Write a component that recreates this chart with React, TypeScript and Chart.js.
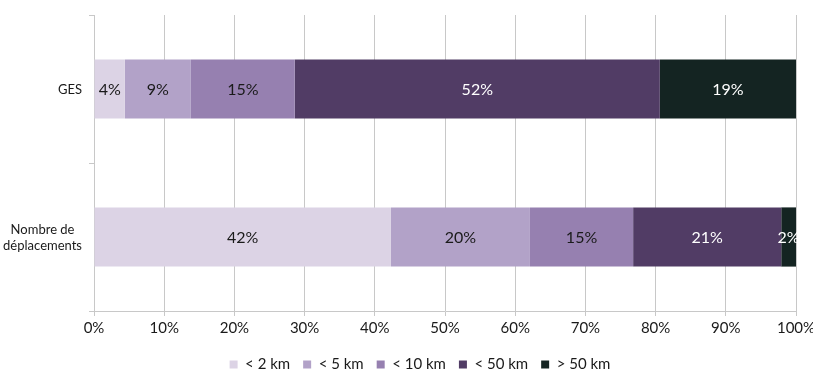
import React, { useEffect, useRef } from "react";
import { Chart, registerables } from "chart.js";

Chart.register(...registerables);

const categories: string[][] = [["GES"], ["Nombre de", "déplacements"]];
const seriesNames = ["< 2 km", "< 5 km", "< 10 km", "< 50 km", "> 50 km"];
const lt2 = [4.4, 42.3];
const lt5 = [9.4, 19.8];
const lt10 = [14.8, 14.7];
const lt50 = [52.0, 21.1];
const gt50 = [19.4, 2.1];
const shownLabels = [
  ["4%", "42%"],
  ["9%", "20%"],
  ["15%", "15%"],
  ["52%", "21%"],
  ["19%", "2%"],
];
const xTicks = [0, 10, 20, 30, 40, 50, 60, 70, 80, 90, 100];

const colors = ["#dcd3e5", "#b2a2c8", "#9680b0", "#513c65", "#142422"];
const labelColors = ["#1a1a1a", "#1a1a1a", "#1a1a1a", "#ffffff", "#ffffff"];
const FONT = "Lato, 'DejaVu Sans', sans-serif";

const labelPlugin = {
  id: "segLabels",
  afterDatasetsDraw(chart: any) {
    const ctx = chart.ctx;
    ctx.save();
    ctx.font = `16px ${FONT}`;
    ctx.textAlign = "center";
    ctx.textBaseline = "middle";
    chart.data.datasets.forEach((ds: any, di: number) => {
      const meta = chart.getDatasetMeta(di);
      meta.data.forEach((bar: any, i: number) => {
        const cx = (bar.x + bar.base) / 2;
        ctx.fillStyle = labelColors[di];
        ctx.fillText(shownLabels[di][i], cx, bar.y + 1);
      });
    });
    ctx.restore();
  },
};

const yLabelPlugin = {
  id: "yLabels",
  afterDraw(chart: any) {
    const ctx = chart.ctx;
    const y = chart.scales.y;
    ctx.save();
    ctx.font = `13px ${FONT}`;
    ctx.fillStyle = "#1a1a1a";
    ctx.textAlign = "center";
    ctx.textBaseline = "middle";
    const rightEdge = y.right - 12;
    const lh = 16;
    categories.forEach((lines, i) => {
      const py = y.getPixelForValue(i);
      const widest = Math.max(...lines.map((l) => ctx.measureText(l).width));
      const cx = rightEdge - widest / 2;
      lines.forEach((l, k) => {
        ctx.fillText(l, cx, py + (k - (lines.length - 1) / 2) * lh + 1);
      });
    });
    ctx.restore();
  },
};

const legendShiftPlugin = {
  id: "legendShift",
  afterLayout(chart: any) {
    const lg = chart.legend;
    if (lg) {
      lg.left += 22;
      lg.right += 22;
    }
  },
};

export default function App() {
  const ref = useRef<HTMLCanvasElement | null>(null);
  useEffect(() => {
    if (!ref.current) return;
    const data = [lt2, lt5, lt10, lt50, gt50];
    const chart = new Chart(ref.current, {
      type: "bar",
      data: {
        labels: categories.map((c) => c.join(" ")),
        datasets: seriesNames.map((name, i) => ({
          label: name,
          data: data[i],
          backgroundColor: colors[i],
          borderWidth: 0,
          barPercentage: 0.8,
          categoryPercentage: 0.5,
        })),
      },
      options: {
        indexAxis: "y",
        animation: false,
        responsive: false,
        maintainAspectRatio: false,
        layout: { padding: { top: 15, right: 17, left: 0, bottom: -10 } },
        plugins: {
          tooltip: { enabled: false },
          legend: {
            position: "bottom",
            labels: {
              boxWidth: 8,
              boxHeight: 8,
              color: "#1a1a1a",
              padding: 13,
              font: { family: FONT, size: 15 },
            },
          },
        },
        scales: {
          x: {
            stacked: true,
            min: 0,
            max: 100,
            afterBuildTicks: (s: any) => {
              s.ticks = xTicks.map((v) => ({ value: v }));
            },
            afterFit: (s: any) => {
              s.height = 33;
              s.paddingLeft = 0;
              s.paddingRight = 0;
            },
            ticks: {
              callback: (v: any) => `${v}%`,
              color: "#1a1a1a",
              font: { family: FONT, size: 15 },
              padding: 3,
              maxRotation: 0,
            },
            grid: { color: "#c8c8c8", tickLength: 5, lineWidth: 1 },
            border: { color: "#c8c8c8" },
          },
          y: {
            stacked: true,
            afterFit: (s: any) => {
              s.width = 94;
            },
            ticks: { display: false },
            grid: { drawOnChartArea: false, color: "#c8c8c8", tickLength: 5 },
            border: { color: "#c8c8c8" },
          },
        },
      },
      plugins: [labelPlugin, yLabelPlugin, legendShiftPlugin],
    } as any);
    return () => chart.destroy();
  }, []);
  return (
    <div style={{ position: "fixed", left: 0, top: 0, width: 813, height: 372, background: "#fff" }}>
      <canvas ref={ref} width={813} height={372} style={{ width: 813, height: 372 }} />
    </div>
  );
}
